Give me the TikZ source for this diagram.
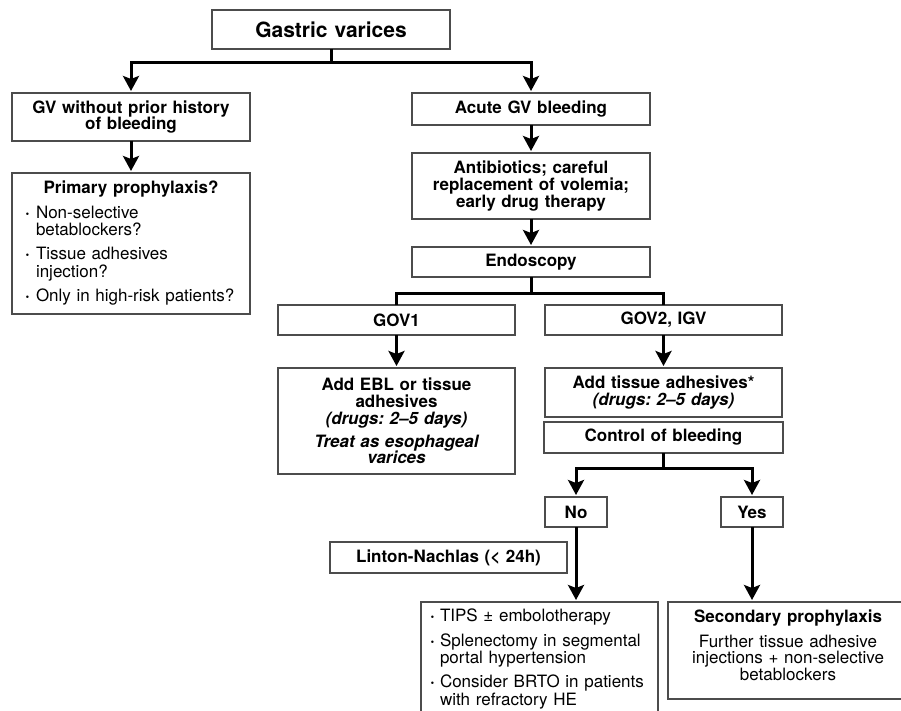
\documentclass[tikz,border=0pt]{standalone}
\usepackage{fontspec}
\setmainfont{TeX Gyre Heros}
\usetikzlibrary{arrows.meta}
\frenchspacing
\newcommand\bx{\fontsize{17}{16.8}\selectfont}
\newcommand\bxs{\fontsize{17}{16}\selectfont}
\newcommand\bxt{\fontsize{21}{22}\selectfont}
\newcommand\bl[1][12pt]{\makebox[#1][l]{\hspace{1pt}\textbf{·}}}
\tikzset{
  box/.style={draw=black!70, line width=1.5pt, fill=white, inner xsep=6pt, inner ysep=4pt,
    align=center, font=\bx\bfseries, outer sep=0pt},
  conn/.style={line width=3pt, black},
  arr/.style={conn, -{Stealth[length=15pt,width=16pt,inset=3pt]}, shorten >=2pt},
}
\begin{document}
\begin{tikzpicture}[x=1pt,y=-1pt]
\useasboundingbox (0,0) rectangle (901,711);
\clip (0,0) rectangle (901,711);
% nodes
\node[box, font=\bxt\bfseries, minimum width=238pt, minimum height=39pt, text width=226pt] (gv) at (331,29.5) {Gastric varices};
\node[box, minimum width=238pt, minimum height=48pt, text width=226pt] (nohist) at (131,117) {GV without prior history\\of bleeding};
\node[box, minimum width=238pt, minimum height=141pt, text width=214pt, inner xsep=12pt, align=left] (prim) at (131,243.5)
  {{\centering Primary prophylaxis?\par}\vspace{8pt}\mdseries
   \begin{tabular}{@{}l@{}l@{}}
   \bl & Non-selective\\ & betablockers?\\[6.3pt]
   \bl & Tissue adhesives\\ & injection?\\[6.3pt]
   \bl & Only in high-risk patients?
   \end{tabular}};
\node[box, minimum width=238pt, minimum height=32pt, text width=226pt] (acute) at (531,109) {Acute GV bleeding};
\node[box, minimum width=238pt, minimum height=66pt, text width=226pt] (anti) at (531,186) {Antibiotics; careful\\replacement of volemia;\\early drug therapy};
\node[box, minimum width=238pt, minimum height=30pt, text width=226pt] (endo) at (531,262) {Endoscopy};
\node[box, minimum width=237pt, minimum height=30pt, text width=225pt] (gov1) at (396.5,320) {GOV1};
\node[box, minimum width=237pt, minimum height=106pt, text width=225pt] (ebl) at (396.5,421)
  {Add EBL or tissue\\adhesives\\{\itshape (drugs: 2–5 days)}\par\vspace{6pt}{\itshape Treat as esophageal\\varices}};
\node[box, minimum width=237pt, minimum height=30pt, text width=225pt] (gov2) at (663.5,320) {GOV2, IGV};
\node[box, minimum width=237pt, minimum height=49pt, text width=225pt] (addt) at (663.5,392.5) {Add tissue adhesives*\\{\itshape (drugs: 2–5 days)}};
\node[box, minimum width=239pt, minimum height=31pt, text width=227pt] (ctrl) at (663.5,437.5) {Control of bleeding};
\node[box, minimum width=62pt, minimum height=30pt, text width=50pt] (no) at (576,512) {No};
\node[box, minimum width=62pt, minimum height=30pt, text width=50pt] (yes) at (752,512) {Yes};
\node[box, minimum width=237pt, minimum height=31pt, text width=225pt] (linton) at (448.5,557.5) {Linton-Nachlas (< 24h)};
\node[box, anchor=north, minimum width=237pt, text width=221pt, inner xsep=8pt, inner ysep=7pt, align=left, font=\bxs\mdseries, text depth=100pt] (tips) at (539.5,602)
  {\begin{tabular}{@{}l@{}l@{}}
   \bl[11pt] & TIPS ± embolotherapy\\[7.5pt]
   \bl[11pt] & Splenectomy in segmental\\ & portal hypertension\\[6.5pt]
   \bl[11pt] & Consider BRTO in patients\\ & with refractory HE
   \end{tabular}};
\node[box, anchor=north, font=\bxs\bfseries, minimum width=240pt, text width=228pt, inner ysep=8pt, text depth=68.5pt] (sec) at (788,602)
  {Secondary prophylaxis\par\vspace{8pt}\mdseries Further tissue adhesive\\injections + non-selective\\betablockers};
% connectors
\coordinate (j1) at (331,63);
\coordinate (j2) at (531,293);
\coordinate (j3) at (663.5,468);
\draw[conn] (gv.south) -- (j1);
\draw[arr] (j1) -| (nohist.north);
\draw[arr] (j1) -| (acute.north);
\draw[arr] (nohist.south) -- (prim.north);
\draw[arr] (acute.south) -- (anti.north);
\draw[arr] (anti.south) -- (endo.north);
\draw[conn] (endo.south) -- (j2);
\draw[conn] (gov1.north) |- (j2) -| (gov2.north);
\draw[arr] (gov1.south) -- (ebl.north);
\draw[arr] (gov2.south) -- (addt.north);
\draw[conn] (ctrl.south) -- (j3);
\draw[arr] (j3) -| (no.north);
\draw[arr] (j3) -| (yes.north);
\draw[arr] (no.south) -- (no.south |- tips.north);
\draw[arr] (yes.south) -- (yes.south |- sec.north);
\end{tikzpicture}
\end{document}
